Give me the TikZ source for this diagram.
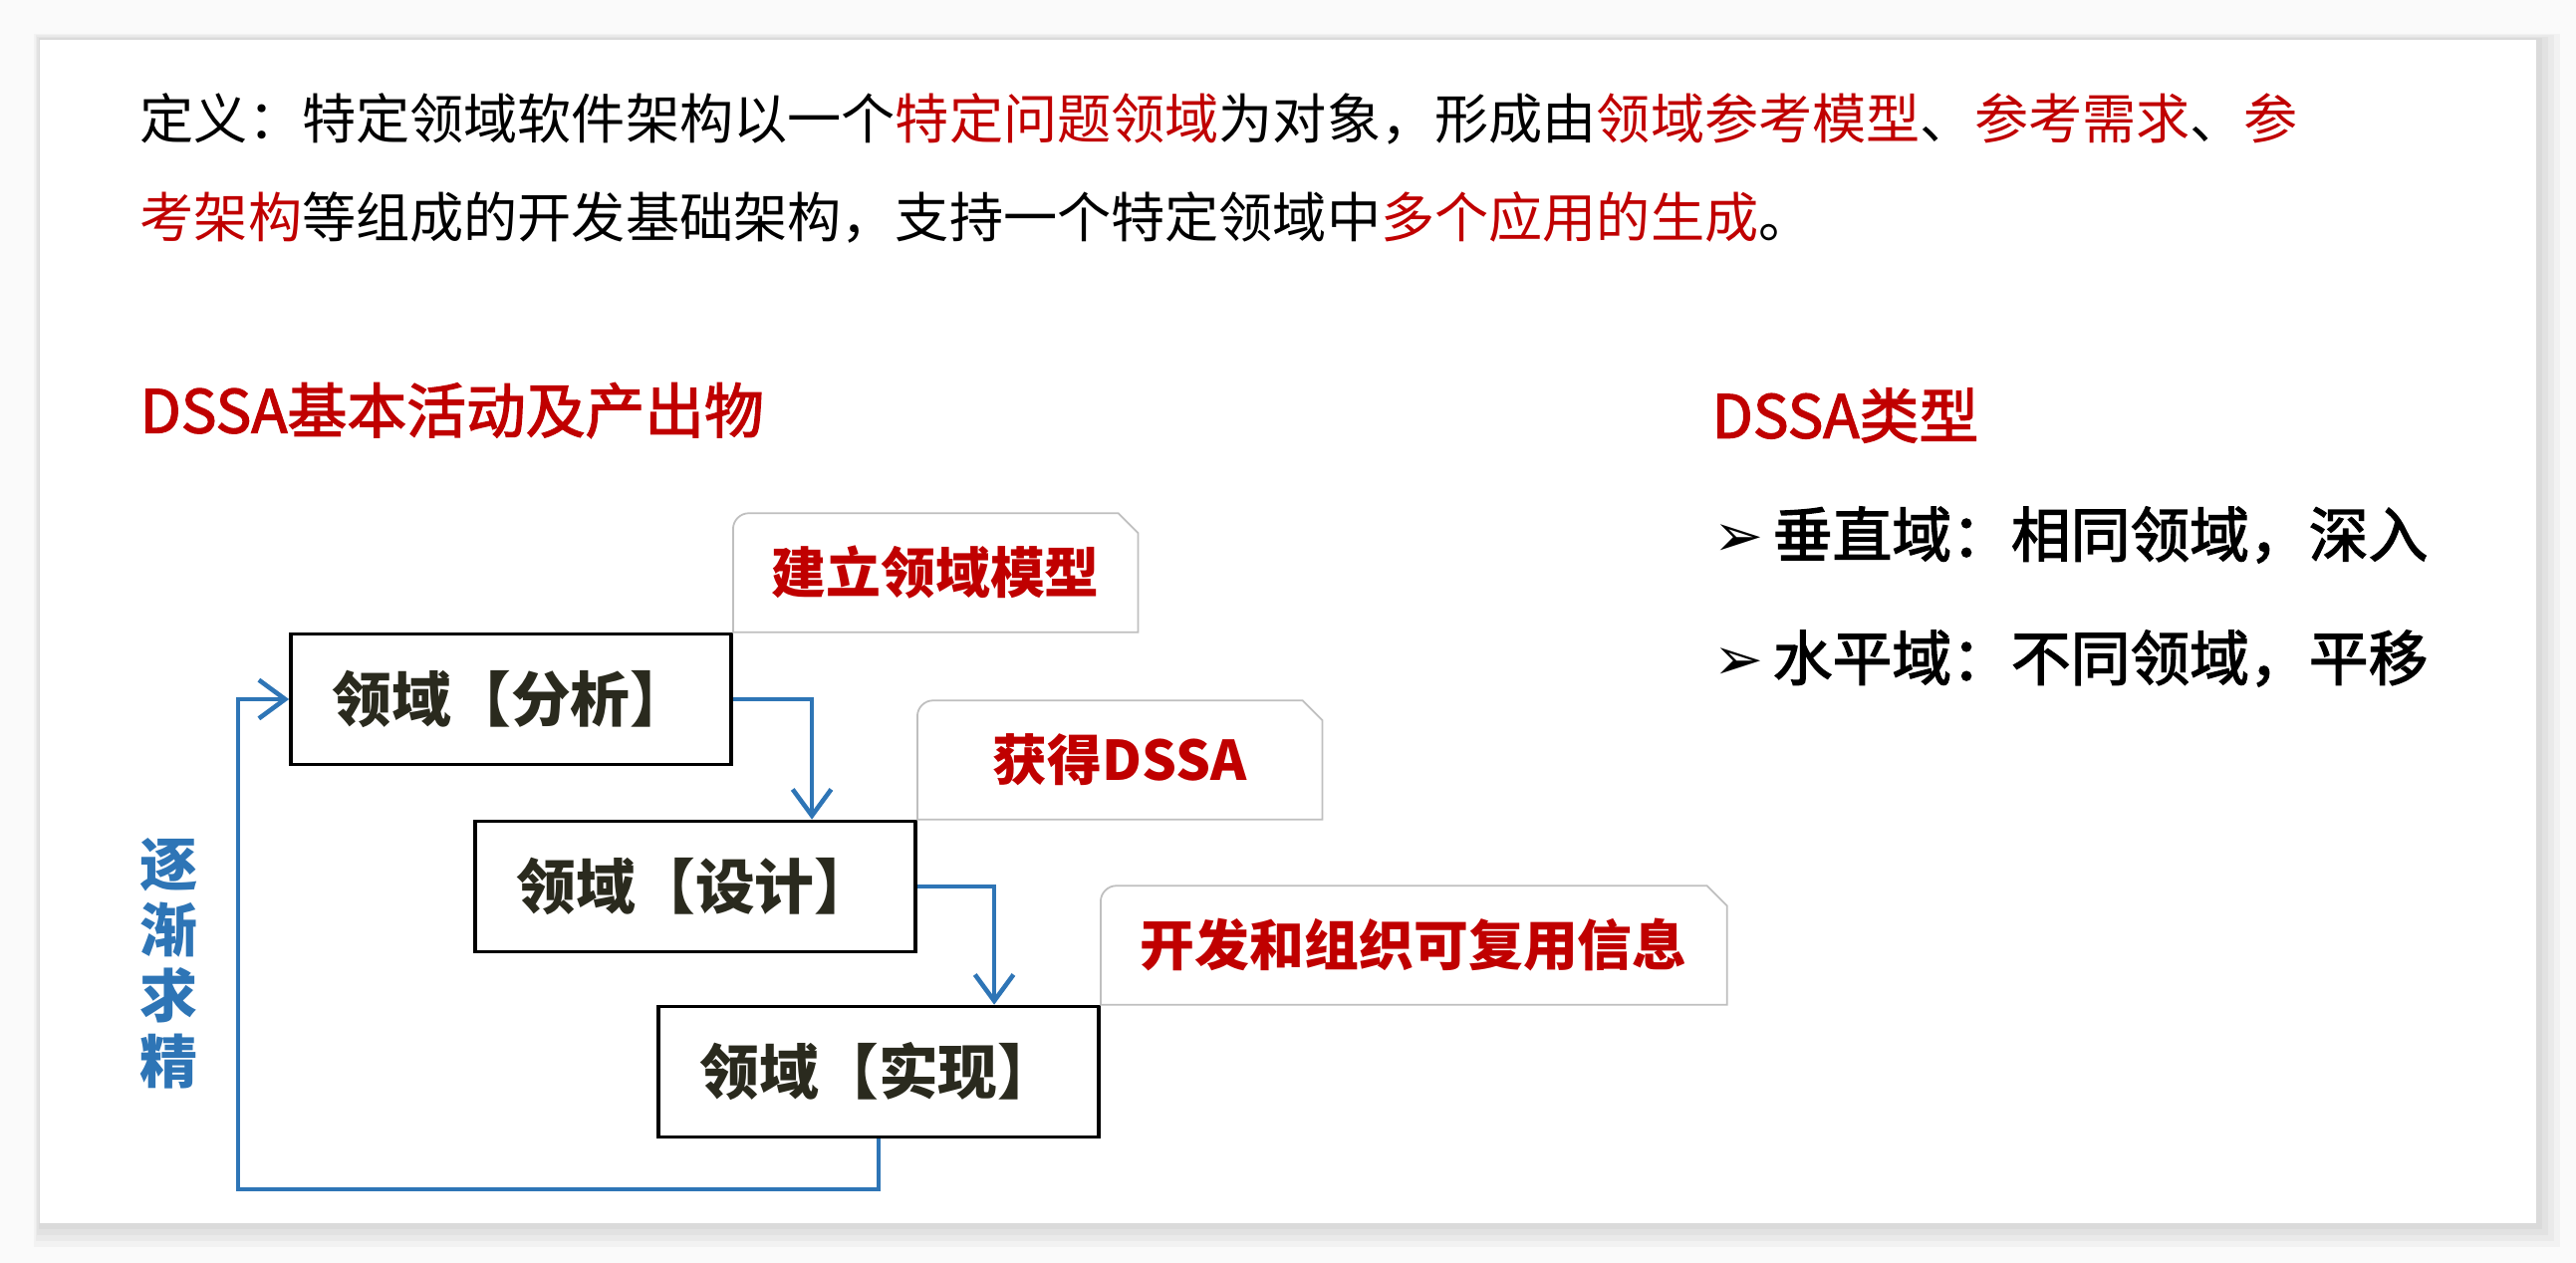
\documentclass[tikz,border=0pt]{standalone}
\usepackage{fontspec}
\setmainfont{Noto Sans CJK SC}
\newfontfamily\medfont[FakeBold=2.2]{Noto Sans CJK SC}
\newfontfamily\arrowfont{DejaVu Sans}
\usetikzlibrary{arrows.meta,positioning}
\definecolor{dkred}{HTML}{C00000}
\definecolor{flowblue}{HTML}{2E75B6}
\definecolor{boxtext}{HTML}{2A2A1E}
\definecolor{tagline}{HTML}{BFBFBF}
\definecolor{pageback}{HTML}{FAFAFA}

\begin{document}
\begin{tikzpicture}[x=0.01cm,y=-0.01cm,>={Straight Barb[length=7.5pt,width=11pt]},
  body text/.style={anchor=west,inner sep=0pt,font=\fontsize{15.4}{18}\selectfont},
  head text/.style={anchor=west,inner sep=0pt,text=dkred,font=\medfont\fontsize{17}{20}\selectfont},
  type text/.style={anchor=west,inner sep=0pt,font=\medfont\fontsize{17}{20}\selectfont},
  domain box/.style={draw,line width=1pt,minimum width=4.42cm,minimum height=1.31cm,text=boxtext,font=\fontsize{17}{20}\selectfont\bfseries},
  tag/.style={anchor=south west,minimum height=1.18cm,inner sep=0pt,text=dkred,font=\fontsize{15.6}{18}\selectfont\bfseries},
  tag edge/.style={draw=tagline,line width=0.5pt},
  flow/.style={->,draw=flowblue,line width=1.3pt}]

  % slide
  \useasboundingbox (0,0) rectangle (2586,1268);
  \fill[pageback] (0,0) rectangle (2586,1268);
  \foreach \d in {24,18,12,6}
    \fill[black,opacity=0.03] (40-\d/4,40-\d/4) rectangle (2546+\d,1228+\d);
  \fill[white] (40,40) rectangle (2546,1228);

  % definition
  \node[body text] (def1) at (140,119) {定义：特定领域软件架构以一个\textcolor{dkred}{特定问题领域}为对象，形成由\textcolor{dkred}{领域参考模型}、\textcolor{dkred}{参考需求}、\textcolor{dkred}{参}};
  \node[body text] (def2) at (140,218) {\textcolor{dkred}{考架构}等组成的开发基础架构，支持一个特定领域中\textcolor{dkred}{多个应用的生成}。};

  \node[head text] (acts) at (140,412) {DSSA基本活动及产出物};
  \node[head text] (types) at (1718,417) {DSSA类型};
  \node[type text] (vert) at (1720,537) {{\arrowfont\fontsize{17}{18}\selectfont ➢}\hspace{0.15em}垂直域：相同领域，深入};
  \node[type text] (horz) at (1720,661) {{\arrowfont\fontsize{17}{18}\selectfont ➢}\hspace{0.15em}水平域：不同领域，平移};

  % activities
  \node[domain box] (ana) at (513,702) {领域【分析】};
  \node[domain box] (des) at (698,890) {领域【设计】};
  \node[domain box] (imp) at (882,1076) {领域【实现】};

  \node[tag,minimum width=4.05cm] (model) at (ana.north east) {建立领域模型};
  \node[tag,minimum width=4.05cm] (gain) at (des.north east) {获得DSSA};
  \node[tag,minimum width=6.27cm] (reuse) at (imp.north east) {开发和组织可复用信息};
  \foreach \t in {model,gain,reuse}
    \draw[tag edge] (\t.south west) -- ([yshift=-0.16cm]\t.north west) to[out=90,in=180] ([xshift=0.16cm]\t.north west)
      -- ([xshift=-0.2cm]\t.north east) -- ([yshift=-0.2cm]\t.north east) -- (\t.south east) -- cycle;

  \draw[flow] (ana.east) -| ([xshift=1.17cm]des.north);
  \draw[flow] (des.east) -| ([xshift=1.16cm]imp.north);
  \coordinate (back) at (239,1194);
  \draw[flow] (imp.south) |- (back) |- (ana.west);

  \node[text=flowblue,font=\fontsize{16.5}{18.8}\selectfont\bfseries,align=center,inner sep=0pt] (refine) at (170,967) {逐\\渐\\求\\精};
\end{tikzpicture}
\end{document}
